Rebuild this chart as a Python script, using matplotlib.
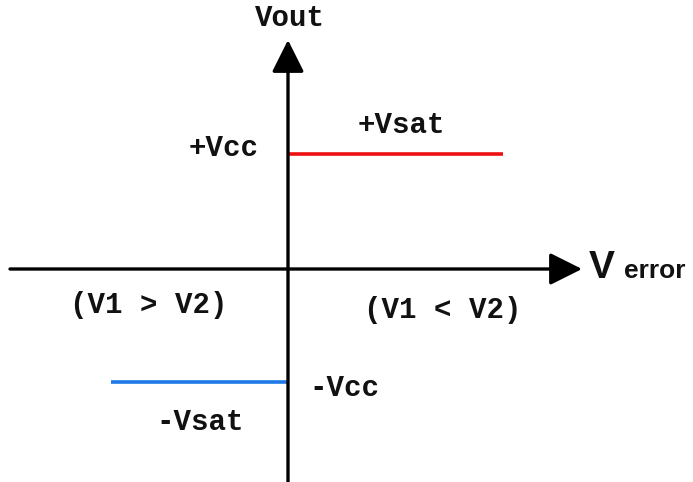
import matplotlib.pyplot as plt

# transfer characteristic of a comparator (pixel-like units, origin at axes crossing)
pos_error = [0, 215]
pos_vout = [115, 115]
neg_error = [-177, 0]
neg_vout = [-113, -113]

x_range = [-288, 405]
y_range = [-213, 269]

fig = plt.figure(figsize=(6.93, 4.82), dpi=100)
ax = fig.add_axes([0, 0, 1, 1])
ax.set_xlim(x_range)
ax.set_ylim(y_range)
ax.axis('off')

# axes with arrows
arrow = dict(arrowstyle='-|>,head_length=0.9,head_width=0.45', lw=2.4, color='black',
             shrinkA=0, shrinkB=0, mutation_scale=22)
ax.annotate('', xy=(294, 0), xytext=(-278, 0), arrowprops=arrow)
ax.annotate('', xy=(0, 229), xytext=(0, -213), arrowprops=arrow)

# saturation levels
ax.plot(pos_error, pos_vout, color='#ee1111', lw=2.6, solid_capstyle='butt')
ax.plot(neg_error, neg_vout, color='#1e78e6', lw=2.6, solid_capstyle='butt')

mono = dict(family='Liberation Mono', fontweight='bold', fontsize=21, color='#111111',
            va='center')
ax.text(2, 251, 'Vout', ha='center', **mono)
ax.text(-64, 121, '+Vcc', ha='center', **mono)
ax.text(113, 144, '+Vsat', ha='center', **mono)
ax.text(-139, -36, '(V1 > V2)', ha='center', **mono)
ax.text(155, -41, '(V1 < V2)', ha='center', **mono)
ax.text(56, -119, '-Vcc', ha='center', **mono)
ax.text(-88, -153, '-Vsat', ha='center', **mono)

sans = dict(family='Liberation Sans', fontweight='bold', color='#111111', va='baseline')
ax.text(301, -9, 'V', fontsize=28, ha='left', **sans)
ax.text(336, -9, 'error', fontsize=19, ha='left', **sans)

fig.savefig('out.png', dpi=100)
